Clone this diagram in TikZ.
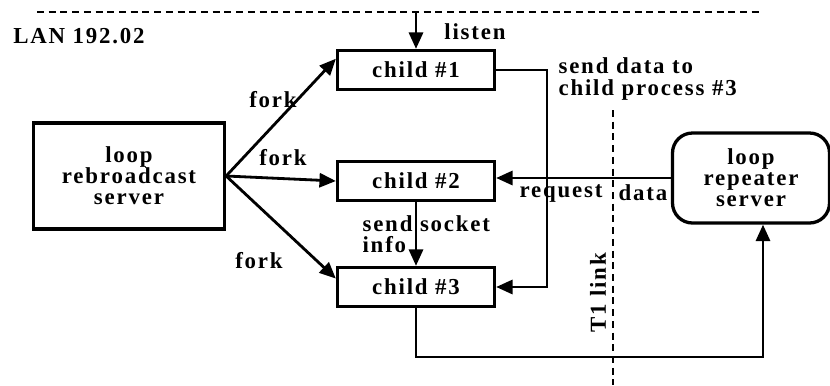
\documentclass[tikz,border=0pt]{standalone}
\usepackage{fontspec}
\setmainfont{Liberation Serif}[LetterSpace=8]
\usetikzlibrary{arrows.meta}
\tikzset{
  proc/.style={draw,line width=2.8pt,minimum width=4.71cm,minimum height=1.17cm,inner sep=0pt},
  srvbox/.style={draw,line width=2.8pt,align=center,inner sep=0pt},
  lbl/.style={inner sep=1pt},
  lanline/.style={line width=1.8pt,dash pattern=on 6pt off 4pt},
}
\begin{document}
\begin{tikzpicture}[x=0.03cm,y=-0.03cm,line width=2.4pt,
    font=\bfseries\fontsize{19.5}{18}\selectfont,
    >={Triangle[length=14pt,width=12pt]}]
  \useasboundingbox (0,0) rectangle (830,385);
  % LAN and T1 link
  \draw[lanline] (37,12) coordinate (lanl) -- (760,12) coordinate (lanr);
  \node[lbl] (lan) at (79,36) {LAN 192.02};
  \draw[lanline] (613,110) coordinate (t1t) -- (613,385) coordinate (t1b);
  \node[lbl,rotate=90] (t1) at (598,293) {T1 link};
  % processes
  \node[srvbox,minimum width=5.73cm,minimum height=3.18cm] (srv) at (129,176) {loop\\rebroadcast\\server};
  \node[srvbox,rounded corners=0.6cm,minimum width=4.71cm,minimum height=2.7cm] (rep) at (751,178) {loop\\repeater\\server};
  \node[proc] (c1) at (416,70) {child \#1};
  \node[proc] (c2) at (416,181) {child \#2};
  \node[proc] (c3) at (416,287) {child \#3};
  % connectors
  \draw[->] (c1.north |- lanl) -- (c1.north);
  \node[lbl] (listen) at (475,32) {listen};
  \draw[->] (srv.east) -- (c1.172);
  \draw[->] (srv.east) -- (c2.west);
  \draw[->] (srv.east) -- (c3.174);
  \node[lbl] (f1) at (273,100) {fork};
  \node[lbl] (f2) at (283,158) {fork};
  \node[lbl] (f3) at (259,261) {fork};
  \coordinate (sd) at (547,70);
  \draw[->] (c1.east) -- (sd) |- (c3.east);
  \node[lbl,align=left,anchor=west] (sdl) at (556,79) {send data to\\child process \#3};
  \draw[->] (c2) -- (c3);
  \node[lbl,align=left,anchor=north west] (sock) at (360,213) {send socket\\info};
  \draw[->] (rep.west) -- (rep.west -| c2.east);
  \node[lbl] (req) at (561,193) {request};
  \node[lbl] (dat) at (643,193) {data};
  \coordinate (bt) at (763,357);
  \draw[->] (c3.south) |- (bt) -- (bt |- rep.south);
\end{tikzpicture}
\end{document}
